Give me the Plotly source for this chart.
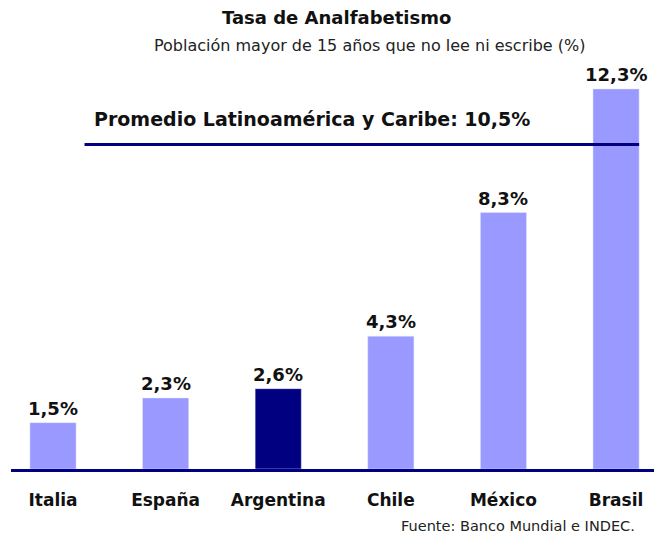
import plotly.graph_objects as go

# data
paises = ["Italia", "España", "Argentina", "Chile", "México", "Brasil"]
tasas = [1.5, 2.3, 2.6, 4.3, 8.3, 12.3]
colores = ["#9999FF", "#9999FF", "#000080", "#9999FF", "#9999FF", "#9999FF"]
promedio = 10.5
promedio_label = "Promedio Latinoamérica y Caribe: 10,5%"
titulo = "Tasa de Analfabetismo"
subtitulo = "Población mayor de 15 años que no lee ni escribe (%)"
fuente = "Fuente: Banco Mundial e INDEC."

W, H = 655, 538
L, R, T, B = 11, 1, 60, 69
PW, PH = W - L - R, H - T - B
BAR_W = 0.41
FONT = "DejaVu Sans"


def px_x(px):
    return (px - L) / PW


def px_y(py):
    return (H - B - py) / PH


xpos = list(range(len(paises)))

fig = go.Figure()
fig.add_trace(
    go.Bar(x=xpos, y=tasas, marker_color=colores, width=BAR_W, hoverinfo="skip")
)

# reference line for the regional average
fig.add_trace(
    go.Scatter(
        x=[0.28, xpos[-1] + BAR_W / 2],
        y=[promedio, promedio],
        mode="lines",
        line=dict(color="#000080", width=3),
        hoverinfo="skip",
    )
)

anns = []
for x, v in zip(xpos, tasas):
    anns.append(
        dict(
            x=x, y=v, xref="x", yref="y",
            text=f"{v:.1f}".replace(".", ",") + "%",
            showarrow=False, yanchor="bottom", yshift=2,
            font=dict(family=FONT, size=18, color="#111111", weight="bold"),
        )
    )

anns.append(
    dict(
        x=px_x(92), y=promedio, xref="paper", yref="y",
        text=promedio_label, showarrow=False,
        xanchor="left", yanchor="middle", yshift=26,
        font=dict(family=FONT, size=19, color="#111111", weight="bold"),
    )
)
anns.append(
    dict(
        x=px_x(336), y=px_y(17), xref="paper", yref="paper",
        text=titulo, showarrow=False, xanchor="center", yanchor="middle",
        font=dict(family=FONT, size=18, color="#111111", weight="bold"),
    )
)
anns.append(
    dict(
        x=px_x(369), y=px_y(45), xref="paper", yref="paper",
        text=subtitulo, showarrow=False, xanchor="center", yanchor="middle",
        font=dict(family=FONT, size=16, color="#222222"),
    )
)
anns.append(
    dict(
        x=px_x(637), y=px_y(526), xref="paper", yref="paper",
        text=fuente, showarrow=False, xanchor="right", yanchor="middle",
        font=dict(family=FONT, size=14.5, color="#222222"),
    )
)

fig.update_layout(
    width=W, height=H,
    margin=dict(l=L, r=R, t=T, b=B),
    paper_bgcolor="white", plot_bgcolor="white",
    showlegend=False,
    annotations=anns,
    xaxis=dict(
        range=[-0.373, 5.337],
        tickvals=xpos, ticktext=paises,
        showline=True, linecolor="#000080", linewidth=3,
        showgrid=False, zeroline=False,
        ticks="outside", ticklen=14, tickcolor="rgba(0,0,0,0)",
        tickfont=dict(family=FONT, size=17, color="#111111", weight="bold"),
    ),
    yaxis=dict(
        range=[0, PH / 30.9],
        visible=False, showgrid=False, zeroline=False,
    ),
)

# drop the browser's default body margin so the figure sits at the top-left corner
fig.write_html(
    "out.html",
    config={"displayModeBar": False},
    post_script="document.body.style.margin='0';",
)
